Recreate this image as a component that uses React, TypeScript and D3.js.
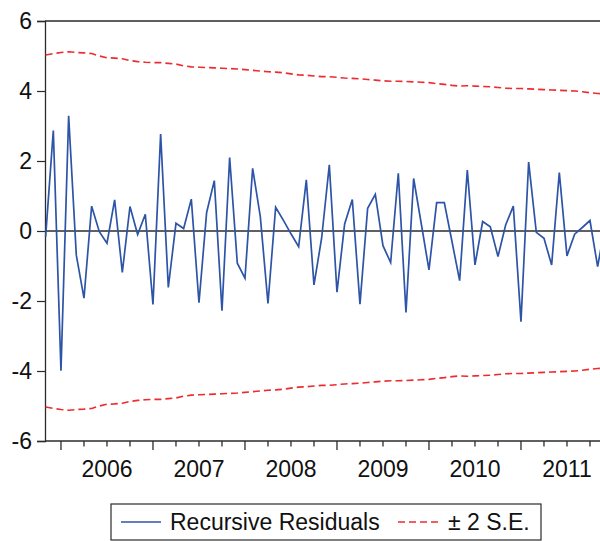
import React, { useEffect, useRef } from "react";
import { select, scaleLinear, axisLeft, line, range } from "d3";

// monthly observations, first one is 2005M11
const START_YEAR = 2005;
const START_MONTH = 11;

const residuals = [
  -0.16, 2.87, -3.99, 3.29, -0.69, -1.92, 0.71, -0.02, -0.35, 0.89,
  -1.18, 0.7, -0.1, 0.48, -2.1, 2.77, -1.61, 0.22, 0.07, 0.91,
  -2.05, 0.53, 1.44, -2.28, 2.1, -0.92, -1.35, 1.79, 0.41, -2.07,
  0.68, 0.31, -0.08, -0.45, 1.46, -1.54, -0.2, 1.89, -1.75, 0.2,
  0.9, -2.09, 0.65, 1.05, -0.42, -0.9, 1.65, -2.33, 1.5, 0.2,
  -1.11, 0.81, 0.81, -0.3, -1.42, 1.74, -0.97, 0.27, 0.12, -0.73,
  0.17, 0.71, -2.59, 1.97, -0.04, -0.21, -0.97, 1.67, -0.71, -0.09,
  0.1, 0.3, -1.02, 0.2,
];

// two standard errors band (upper; lower is the mirror)
const twoSE = [
  5.03, 5.07, 5.1, 5.12, 5.1, 5.09, 5.07, 5.0, 4.95, 4.94,
  4.92, 4.87, 4.84, 4.82, 4.81, 4.81, 4.79, 4.77, 4.72, 4.69,
  4.68, 4.67, 4.66, 4.65, 4.64, 4.63, 4.61, 4.59, 4.57, 4.55,
  4.54, 4.52, 4.49, 4.46, 4.45, 4.43, 4.41, 4.41, 4.39, 4.37,
  4.36, 4.35, 4.33, 4.31, 4.29, 4.28, 4.28, 4.27, 4.26, 4.25,
  4.24, 4.21, 4.19, 4.16, 4.14, 4.15, 4.14, 4.13, 4.12, 4.1,
  4.08, 4.07, 4.07, 4.06, 4.05, 4.04, 4.03, 4.02, 4.01, 4.0,
  3.98, 3.95, 3.93, 3.91,
];

const yearLabels = ["2006", "2007", "2008", "2009", "2010", "2011"];
const yTicks = [-6, -4, -2, 0, 2, 4, 6];
const legendLabels = ["Recursive Residuals", "\u00B1 2 S.E."];

const BLUE = "#2D54A6";
const RED = "#EE2B2F";
const AXIS = "#2b2b2b";
const FONT = "'Liberation Sans', Arial, sans-serif";

export default function App() {
  const ref = useRef<SVGSVGElement>(null);

  useEffect(() => {
    const svg = select(ref.current);
    svg.selectAll("*").remove();

    const margin = { top: 21, left: 45 };
    const plotBottom = 441;
    const pxPerYear = 92;
    const x0 = START_YEAR + (START_MONTH - 1) / 12 - 0.007;
    const x1 = 2012.0;

    const xScale = scaleLinear()
      .domain([x0, x1])
      .range([margin.left, margin.left + (x1 - x0) * pxPerYear]);
    const yScale = scaleLinear().domain([-6, 6]).range([plotBottom, margin.top]);

    const t = (i: number) => START_YEAR + (START_MONTH - 1 + i) / 12;
    const right = xScale(x1);

    // frame (top + right)
    svg.append("path")
      .attr("d", `M${margin.left},${margin.top}H${right}V${plotBottom}`)
      .attr("fill", "none")
      .attr("stroke", AXIS)
      .attr("stroke-width", 1.3);

    // zero line
    svg.append("line")
      .attr("x1", margin.left).attr("x2", right)
      .attr("y1", yScale(0)).attr("y2", yScale(0))
      .attr("stroke", AXIS)
      .attr("stroke-width", 1.4);

    // y axis
    const yAxisG = svg.append("g")
      .attr("transform", `translate(${margin.left},0)`)
      .call(axisLeft(yScale).tickValues(yTicks).tickSize(8).tickPadding(5).tickFormat(d => String(d)));
    yAxisG.select(".domain").attr("stroke", AXIS).attr("stroke-width", 1.3);
    yAxisG.selectAll(".tick line").attr("stroke", AXIS).attr("stroke-width", 1.2);
    yAxisG.selectAll("text")
      .attr("font-family", FONT)
      .attr("font-size", 23)
      .attr("fill", "#111");

    // x axis: quarterly ticks, long at year starts
    svg.append("line")
      .attr("x1", margin.left).attr("x2", right)
      .attr("y1", plotBottom).attr("y2", plotBottom)
      .attr("stroke", AXIS)
      .attr("stroke-width", 1.3);
    const quarters = range(0, yearLabels.length * 4).map(q => +yearLabels[0] + q / 4);
    svg.append("g")
      .selectAll("line")
      .data(quarters)
      .enter()
      .append("line")
      .attr("x1", d => xScale(d)).attr("x2", d => xScale(d))
      .attr("y1", plotBottom)
      .attr("y2", (d, i) => plotBottom + (i % 4 === 0 ? 9 : 5.5))
      .attr("stroke", AXIS)
      .attr("stroke-width", 1.3);

    svg.append("g")
      .selectAll("text")
      .data(yearLabels)
      .enter()
      .append("text")
      .attr("x", d => xScale(+d + 0.5))
      .attr("y", 477)
      .attr("text-anchor", "middle")
      .attr("font-family", FONT)
      .attr("font-size", 23)
      .attr("fill", "#111")
      .text(d => d);

    // bands
    const upper = line<number>().x((d, i) => xScale(t(i))).y(d => yScale(d));
    const lower = line<number>().x((d, i) => xScale(t(i))).y(d => yScale(-d));
    [upper, lower].forEach(gen => {
      svg.append("path")
        .attr("d", gen(twoSE))
        .attr("fill", "none")
        .attr("stroke", RED)
        .attr("stroke-width", 1.6)
        .attr("stroke-dasharray", "7,4");
    });

    // residuals
    svg.append("path")
      .attr("d", line<number>().x((d, i) => xScale(t(i))).y(d => yScale(d))(residuals))
      .attr("fill", "none")
      .attr("stroke", BLUE)
      .attr("stroke-width", 1.7)
      .attr("stroke-linejoin", "miter");

    // legend
    const lg = svg.append("g");
    lg.append("rect")
      .attr("x", 111).attr("y", 504)
      .attr("width", 430).attr("height", 36)
      .attr("fill", "white")
      .attr("stroke", AXIS)
      .attr("stroke-width", 1.2);
    lg.append("line")
      .attr("x1", 121).attr("x2", 161).attr("y1", 522).attr("y2", 522)
      .attr("stroke", BLUE).attr("stroke-width", 1.5);
    lg.append("text")
      .attr("x", 170).attr("y", 530)
      .attr("font-family", FONT).attr("font-size", 23).attr("fill", "#111")
      .text(legendLabels[0]);
    lg.append("line")
      .attr("x1", 398).attr("x2", 438).attr("y1", 522).attr("y2", 522)
      .attr("stroke", RED).attr("stroke-width", 1.5)
      .attr("stroke-dasharray", "7,4");
    lg.append("text")
      .attr("x", 448).attr("y", 530)
      .attr("font-family", FONT).attr("font-size", 23).attr("fill", "#111")
      .text(legendLabels[1]);
  }, []);

  return (
    <svg
      ref={ref}
      width={600}
      height={541}
      style={{ position: "absolute", left: 0, top: 0, background: "white" }}
    />
  );
}
